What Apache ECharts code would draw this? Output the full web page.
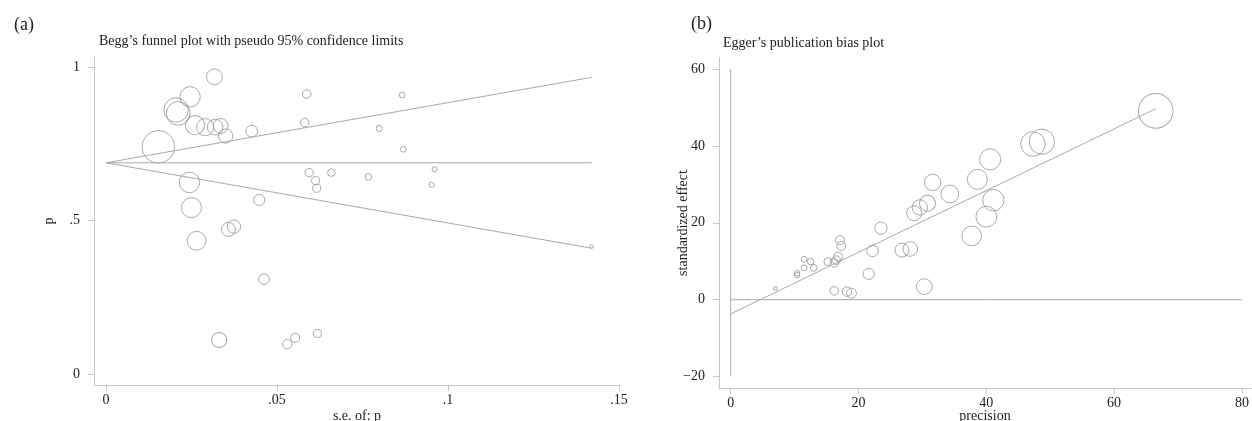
<!DOCTYPE html>
<html>
<head>
<meta charset="utf-8">
<script src="https://cdn.jsdelivr.net/npm/echarts@6/dist/echarts.min.js"></script>
<style>
html,body{margin:0;padding:0;background:#fff;}
#chart{width:1252px;height:421px;}
</style>
</head>
<body>
<div id="chart"></div>
<script>
// ---- Panel (a): Begg's funnel plot ----
const beggSE = [0.0317,0.0246,0.0205,0.0211,0.0260,0.0290,0.0319,0.0335,0.0350,0.0426,0.0153,
  0.0244,0.0250,0.0265,0.0358,0.0374,0.0448,0.0462,0.0331,0.0530,0.0553,0.0618,
  0.0587,0.0866,0.0581,0.0799,0.0869,0.0594,0.0613,0.0616,0.0659,0.0767,0.0961,0.0952,0.1420];
const beggP = [0.968,0.903,0.860,0.849,0.811,0.804,0.804,0.808,0.775,0.791,0.740,
  0.624,0.542,0.434,0.471,0.480,0.567,0.309,0.111,0.097,0.118,0.132,
  0.912,0.909,0.819,0.800,0.732,0.656,0.630,0.605,0.656,0.642,0.667,0.616,0.415];
const pooledP = 0.688;
const maxSE = 0.142;
const beggXTicks = [0, 0.05, 0.1, 0.15];
const beggYTicks = [0, 0.5, 1];

// ---- Panel (b): Egger's publication bias plot ----
const eggerPrecision = [66.5,47.3,48.7,40.6,38.6,41.1,40.0,37.7,31.6,34.3,30.8,29.6,28.7,23.5,
  7.0,10.4,10.4,11.5,11.5,12.5,13.0,15.2,16.2,16.5,16.8,17.1,17.3,16.2,18.2,18.9,
  21.6,22.2,26.8,28.1,30.3];
const eggerEffect = [49.1,40.5,41.1,36.5,31.3,25.9,21.6,16.6,30.5,27.5,25.1,24.0,22.5,18.6,
  2.9,6.9,6.4,10.5,8.3,9.9,8.3,9.9,9.6,10.3,11.2,15.5,14.0,2.3,2.1,1.7,
  6.7,12.7,12.9,13.2,3.4];
const eggerIntercept = -3.7;
const eggerSlope = 0.802;
const eggerXTicks = [0, 20, 40, 60, 80];
const eggerYTicks = [-20, 0, 20, 40, 60];
const eggerYRange = [-20, 60];
const eggerXRange = [0, 80];

const FONT = 'Liberation Serif';
const TXT = '#222';
const AX = '#c6c6c6';
const MARK = '#939393';
const LINE = '#a9a9a9';

function fmtDot(v){ if (v < 0) return '\u2212' + Math.abs(v); return String(v).replace(/^0\./, '.'); }

function axisCommon(ticks, margin){
  return {
    type:'value', splitLine:{show:false},
    axisLine:{show:true, onZero:false, lineStyle:{color:AX, width:1}},
    axisTick:{show:true, length:6, lineStyle:{color:AX}, customValues:ticks},
    axisLabel:{color:TXT, fontSize:14, fontFamily:FONT, margin:margin, customValues:ticks, formatter:fmtDot},
    nameTextStyle:{color:TXT, fontSize:14, fontFamily:FONT},
    nameLocation:'middle',
    nameMoveOverlap:false
  };
}

const beggPts = beggSE.map((s,i)=>[s, beggP[i]]);
const eggerPts = eggerPrecision.map((x,i)=>[x, eggerEffect[i]]);
const maxPrec = Math.max(...eggerPrecision);

const option = {
  backgroundColor:'#ffffff',
  animation:false,
  title:[
    {text:'(a)', left:9, top:11, textStyle:{fontFamily:FONT, fontSize:18, fontWeight:'normal', color:TXT}},
    {text:'Begg\u2019s funnel plot with pseudo 95% confidence limits', left:94, top:29, textStyle:{fontFamily:FONT, fontSize:14, fontWeight:'normal', color:TXT}},
    {text:'(b)', left:686, top:10, textStyle:{fontFamily:FONT, fontSize:18, fontWeight:'normal', color:TXT}},
    {text:'Egger\u2019s publication bias plot', left:718, top:31, textStyle:{fontFamily:FONT, fontSize:14, fontWeight:'normal', color:TXT}}
  ],
  grid:[
    {left:94, top:57, width:526, height:328, outerBoundsMode:'none', containLabel:false},
    {left:719, top:58, width:532, height:330, outerBoundsMode:'none', containLabel:false}
  ],
  xAxis:[
    Object.assign(axisCommon(beggXTicks, 8), {gridIndex:0, min:-0.00351, max:0.15029, name:'s.e. of: p', nameGap:24}),
    Object.assign(axisCommon(eggerXTicks, 8), {gridIndex:1, min:-1.83, max:81.42, name:'precision', nameGap:21})
  ],
  yAxis:[
    Object.assign(axisCommon(beggYTicks, 14), {gridIndex:0, min:-0.0358, max:1.0326, name:'p', nameGap:38}),
    Object.assign(axisCommon(eggerYTicks, 14), {gridIndex:1, min:-22.96, max:62.86, name:'standardized effect', nameGap:29})
  ],
  series:[
    {type:'line', xAxisIndex:0, yAxisIndex:0, symbol:'none', silent:true,
      data:[[0,pooledP],[maxSE,pooledP]], lineStyle:{color:LINE, width:1}},
    {type:'line', xAxisIndex:0, yAxisIndex:0, symbol:'none', silent:true,
      data:[[0,pooledP],[maxSE,pooledP+1.96*maxSE]], lineStyle:{color:LINE, width:1}},
    {type:'line', xAxisIndex:0, yAxisIndex:0, symbol:'none', silent:true,
      data:[[0,pooledP],[maxSE,pooledP-1.96*maxSE]], lineStyle:{color:LINE, width:1}},
    {type:'scatter', xAxisIndex:0, yAxisIndex:0, data:beggPts,
      symbol:'circle', symbolSize:function(v){ return Math.max(3, 0.5/v[0]); },
      itemStyle:{color:'rgba(255,255,255,0)', borderColor:MARK, borderWidth:1}},
    {type:'line', xAxisIndex:1, yAxisIndex:1, symbol:'none', silent:true,
      data:[[0,eggerYRange[0]],[0,eggerYRange[1]]], lineStyle:{color:LINE, width:1}},
    {type:'line', xAxisIndex:1, yAxisIndex:1, symbol:'none', silent:true,
      data:[[eggerXRange[0],0],[eggerXRange[1],0]], lineStyle:{color:LINE, width:1}},
    {type:'line', xAxisIndex:1, yAxisIndex:1, symbol:'none', silent:true,
      data:[[0,eggerIntercept],[maxPrec, eggerIntercept+eggerSlope*maxPrec]], lineStyle:{color:LINE, width:1}},
    {type:'scatter', xAxisIndex:1, yAxisIndex:1, data:eggerPts,
      symbol:'circle', symbolSize:function(v){ return Math.max(3, 0.52*v[0]); },
      itemStyle:{color:'rgba(255,255,255,0)', borderColor:MARK, borderWidth:1}}
  ]
};
const chart = echarts.init(document.getElementById('chart'), null, {renderer:'canvas'});
chart.setOption(option);
</script>
</body>
</html>
